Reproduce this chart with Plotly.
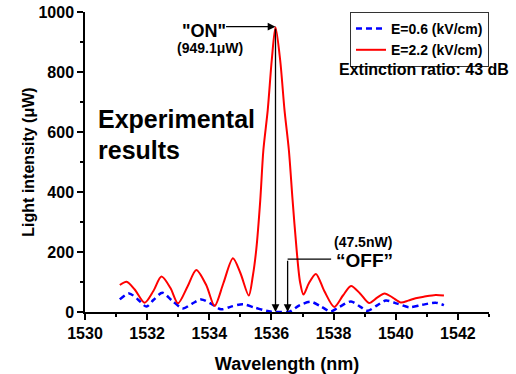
import plotly.graph_objects as go

# E = 2.2 kV/cm (red, solid)
red_x = [1531.12, 1531.34, 1531.6, 1531.92, 1532.2, 1532.46, 1532.75, 1532.99, 1533.3, 1533.58,
         1533.9, 1534.17, 1534.45, 1534.76, 1535.0, 1535.27, 1535.4, 1535.51, 1535.64, 1535.74,
         1535.88, 1536.01, 1536.13, 1536.28, 1536.42, 1536.56, 1536.68, 1536.81, 1536.92, 1537.03,
         1537.2, 1537.43, 1537.7, 1538.02, 1538.3, 1538.56, 1538.85, 1539.14, 1539.4, 1539.64,
         1539.9, 1540.16, 1540.4, 1540.64, 1540.9, 1541.28, 1541.55]
red_y = [90, 101, 75, 31, 70, 118, 80, 29, 85, 140,
         90, 20, 95, 179, 130, 55, 120, 207, 373, 540,
         673, 840, 949.1, 840, 673, 540, 373, 207, 100, 58,
         95, 127, 70, 17, 55, 87, 62, 30, 48, 62,
         48, 32, 38, 46, 51, 57, 55]

# E = 0.6 kV/cm (blue, dashed)
blue_x = [1531.12, 1531.42, 1531.7, 1531.98, 1532.2, 1532.49, 1532.8, 1533.15, 1533.45, 1533.74,
          1534.05, 1534.38, 1534.7, 1535.08, 1535.45, 1535.83, 1536.0, 1536.3, 1536.58, 1536.9,
          1537.27, 1537.6, 1537.91, 1538.2, 1538.56, 1538.85, 1539.09, 1539.4, 1539.68, 1540.05,
          1540.43, 1540.85, 1541.28, 1541.55]
blue_y = [42, 62, 42, 18, 40, 64, 38, 12, 28, 42,
          28, 9, 18, 26, 15, 4, 1, 0, 1, 22,
          34, 18, 2, 18, 35, 18, 4, 22, 38, 28,
          16, 24, 31, 23]

x_ticks = [1530, 1532, 1534, 1536, 1538, 1540, 1542]
y_ticks = [0, 200, 400, 600, 800, 1000]

off_x = 1536.52      # "OFF" wavelength marker
off_line_y = 176
off_label_end_x = 1537.92
on_label_start_x = 1534.49

peak_i = red_y.index(max(red_y))
peak_x, peak_y = red_x[peak_i], red_y[peak_i]

FONT = "Liberation Sans"

fig = go.Figure()
fig.add_trace(go.Scatter(x=blue_x, y=blue_y, mode="lines", name="E=0.6 (kV/cm)",
                         line=dict(color="#0000ff", width=2.5, dash="6px,4px", shape="spline", smoothing=0.8)))
fig.add_trace(go.Scatter(x=red_x, y=red_y, mode="lines", name="E=2.2 (kV/cm)",
                         line=dict(color="#ff0000", width=2, shape="spline", smoothing=0.8)))

axis_common = dict(showline=True, linecolor="black", linewidth=1.5, ticks="outside", ticklen=6,
                   tickwidth=1.5, tickcolor="black", showgrid=False, zeroline=False, automargin=False,
                   tickfont=dict(family=FONT, size=16, color="black", weight="bold"))

fig.update_xaxes(range=[1530, 1543], tickvals=x_ticks, ticktext=[str(v) for v in x_ticks],
                 minor=dict(ticks="outside", dtick=1, tick0=1530, ticklen=3, tickwidth=1.5, tickcolor="black"),
                 title=dict(text="Wavelength (nm)", font=dict(family=FONT, size=18, color="black", weight="bold"),
                            standoff=16),
                 **axis_common)
fig.update_yaxes(range=[0, 1000], tickvals=y_ticks, ticktext=[str(v) for v in y_ticks],
                 minor=dict(ticks="outside", dtick=100, tick0=0, ticklen=3, tickwidth=1.5, tickcolor="black"),
                 title=dict(text="Light intensity (μW)", font=dict(family=FONT, size=16, color="black", weight="bold"),
                            standoff=0),
                 **axis_common)

ann = []
def txt(t, xp, yp, size, xanchor="center"):
    ann.append(dict(text=t, x=xp, y=yp, xref="paper", yref="paper", showarrow=False,
                    xanchor=xanchor, yanchor="middle",
                    font=dict(family=FONT, size=size, color="black", weight="bold")))

txt('"ON"', 0.2946, 0.935, 18)
txt("(949.1μW)", 0.3087, 0.880, 14)
txt("“OFF”", 0.692, 0.172, 19)
txt("(47.5nW)", 0.688, 0.234, 14)
txt("Extinction ratio: 43 dB", 0.8386, 0.808, 16)
txt("Experimental", 0.028, 0.643, 25, "left")
txt("results", 0.028, 0.54, 25, "left")

def arrow(x0, y0, x1, y1):
    ann.append(dict(x=x1, y=y1, ax=x0, ay=y0, xref="x", yref="y", axref="x", ayref="y",
                    text="", showarrow=True, arrowhead=2, arrowsize=1.2, arrowwidth=1.3,
                    arrowcolor="black", standoff=0, startstandoff=0))

arrow(on_label_start_x, peak_y + 2, peak_x, peak_y + 2)
arrow(peak_x, peak_y, peak_x, 0)
arrow(off_x, off_line_y, off_x, 0)

fig.add_shape(type="line", x0=off_x, y0=off_line_y, x1=off_label_end_x, y1=off_line_y,
              xref="x", yref="y", line=dict(color="black", width=1.3))

fig.update_layout(
    width=516, height=374, margin=dict(l=85, r=27, t=12, b=62),
    paper_bgcolor="white", plot_bgcolor="white",
    annotations=ann,
    legend=dict(x=1, y=1, xanchor="right", yanchor="top", bgcolor="white",
                bordercolor="#333", borderwidth=1,
                font=dict(family=FONT, size=14, color="black", weight="bold"),
                itemwidth=30, tracegroupgap=0),
    showlegend=True,
)

fig.write_html("out.html")
